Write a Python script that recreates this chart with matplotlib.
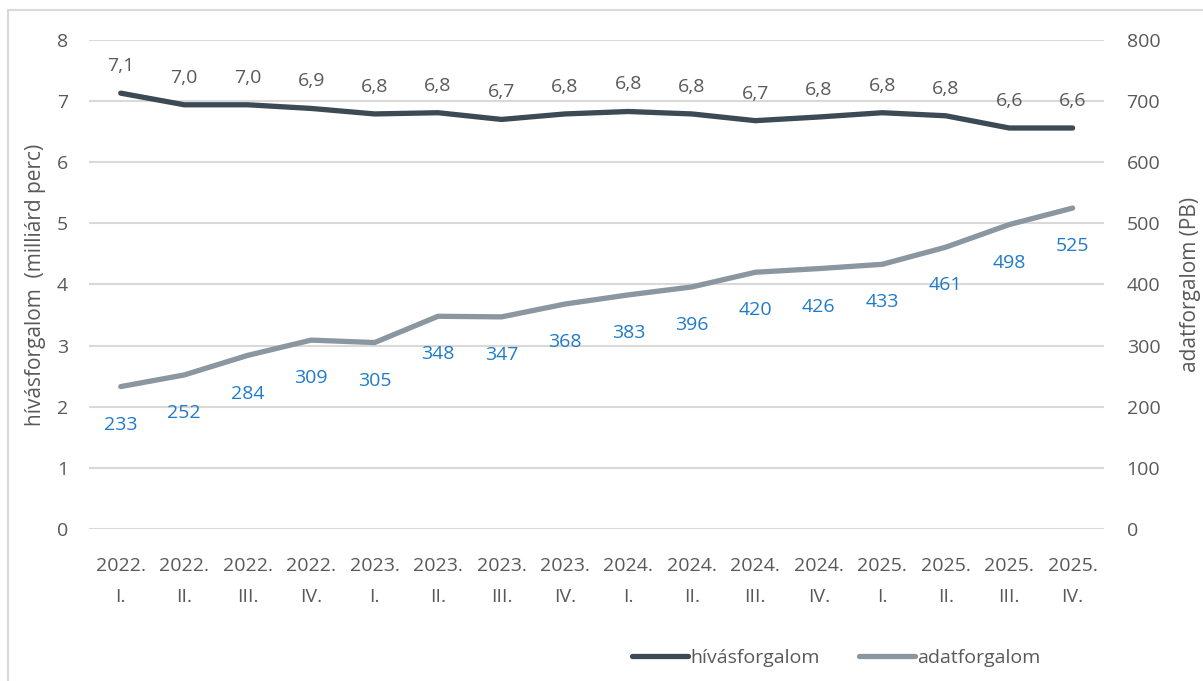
import matplotlib.pyplot as plt
from matplotlib.patches import Rectangle

plt.rcParams['font.family'] = ['Open Sans', 'DejaVu Sans']

quarters = ['2022.\nI.', '2022.\nII.', '2022.\nIII.', '2022.\nIV.',
            '2023.\nI.', '2023.\nII.', '2023.\nIII.', '2023.\nIV.',
            '2024.\nI.', '2024.\nII.', '2024.\nIII.', '2024.\nIV.',
            '2025.\nI.', '2025.\nII.', '2025.\nIII.', '2025.\nIV.']
hivas = [7.13, 6.94, 6.94, 6.88, 6.79, 6.81, 6.70, 6.79,
         6.83, 6.79, 6.68, 6.74, 6.81, 6.76, 6.56, 6.56]
hivas_labels = ['7,1', '7,0', '7,0', '6,9', '6,8', '6,8', '6,7', '6,8',
                '6,8', '6,8', '6,7', '6,8', '6,8', '6,8', '6,6', '6,6']
adat = [233, 252, 284, 309, 305, 348, 347, 368,
        383, 396, 420, 426, 433, 461, 498, 525]

c_hivas = '#3b4a54'
c_adat = '#8a96a0'
c_lab = '#1f7bc8'
c_txt = '#595959'

fig = plt.figure(figsize=(12.03, 6.81), dpi=100)
fig.patches.append(Rectangle((8 / 1203, -0.1), 1.2, 1 - 10 / 681 + 0.1,
                             transform=fig.transFigure, fill=False,
                             edgecolor='#d9d9d9', linewidth=1.5))
ax = fig.add_axes([0.074, 0.2232, 0.844, 0.7181])
ax2 = ax.twinx()

x = list(range(len(quarters)))
l1, = ax.plot(x, hivas, color=c_hivas, linewidth=3.8, solid_capstyle='round', zorder=3)
l2, = ax2.plot(x, adat, color=c_adat, linewidth=3.8, solid_capstyle='round', zorder=3)

for xi, v, s in zip(x, hivas, hivas_labels):
    ax.annotate(s, (xi, v), xytext=(0, 13), textcoords='offset points',
                ha='center', va='bottom', fontsize=14, color=c_txt)
for xi, v in zip(x, adat):
    ax2.annotate(str(v), (xi, v), xytext=(0, -21), textcoords='offset points',
                 ha='center', va='top', fontsize=14, color=c_lab)

ax.set_xlim(-0.5, len(quarters) - 0.5)
ax.set_ylim(0, 8)
ax2.set_ylim(0, 800)
ax.set_yticks(range(0, 9))
ax2.set_yticks(range(0, 801, 100))
ax.set_xticks(x)
ax.set_xticklabels(quarters, linespacing=1.95)
ax.grid(axis='y', color='#d9d9d9', linewidth=1.5)
ax.set_axisbelow(True)

for a in (ax, ax2):
    for sp in a.spines.values():
        sp.set_visible(False)
    a.tick_params(length=0, labelsize=14, colors=c_txt)
ax.tick_params(axis='y', pad=15)
ax2.tick_params(axis='y', pad=16)
ax.tick_params(axis='x', pad=20)

ax.set_ylabel('hívásforgalom  (milliárd perc)', fontsize=15, color=c_txt, labelpad=8)
ax2.set_ylabel('adatforgalom (PB)', fontsize=15, color=c_txt, rotation=90, labelpad=14)

fig.legend([l1, l2], ['hívásforgalom', 'adatforgalom'], loc='center',
           bbox_to_anchor=(0.695, 0.034), ncol=2, frameon=False, fontsize=14,
           labelcolor=c_txt, handlelength=2.9, handletextpad=0.1, columnspacing=2.0)

fig.savefig('out.png', dpi=100)
